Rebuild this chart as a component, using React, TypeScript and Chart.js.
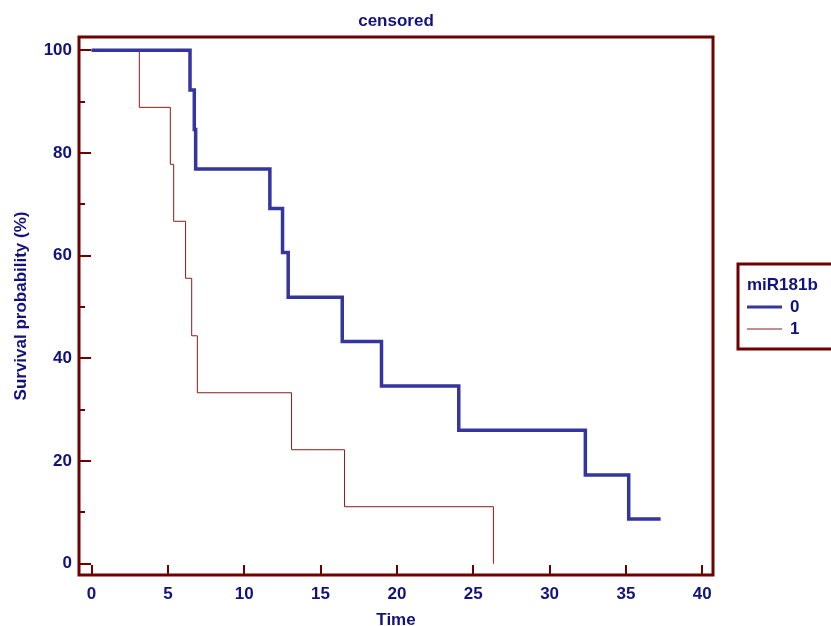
import React, { useEffect, useRef } from "react";
import { Chart, registerables } from "chart.js";

Chart.register(...registerables);

const group0Times = [0, 6.45, 6.73, 6.82, 11.68, 12.51, 12.88, 16.42, 18.99, 24.05, 32.34, 35.18, 37.27];
const group0Survival = [100, 92.3, 84.6, 76.9, 69.2, 60.6, 51.9, 43.3, 34.6, 26.0, 17.3, 8.7, 8.7];
const group1Times = [0, 3.13, 5.16, 5.38, 6.16, 6.56, 6.93, 13.1, 16.57, 26.32];
const group1Survival = [100, 88.9, 77.8, 66.7, 55.6, 44.4, 33.3, 22.2, 11.1, 0];
const xTickValues = [0, 5, 10, 15, 20, 25, 30, 35, 40];
const yTickValues = [0, 10, 20, 30, 40, 50, 60, 70, 80, 90, 100];
const yLabelledTicks = [0, 20, 40, 60, 80, 100];
const legendTitle = "miR181b";
const seriesNames = ["0", "1"];

const NAVY = "#12127f";
const MAROON = "#6e0000";
const BLUE = "#3535a0";
const RED = "#8b1a1a";
const FONT = "'Liberation Sans', Arial, sans-serif";

const framePlugin = {
  id: "frameAndTicks",
  beforeDatasetsDraw(chart: any) {
    const { ctx, chartArea } = chart;
    const xs = chart.scales.x;
    const ys = chart.scales.y;
    ctx.save();
    ctx.strokeStyle = MAROON;
    ctx.lineWidth = 2;
    ctx.beginPath();
    for (const v of yTickValues) {
      const y = Math.round(ys.getPixelForValue(v));
      const len = yLabelledTicks.includes(v) ? 12 : 6;
      ctx.moveTo(chartArea.left, y);
      ctx.lineTo(chartArea.left + len, y);
    }
    for (const v of xTickValues) {
      const x = Math.round(xs.getPixelForValue(v));
      ctx.moveTo(x, chartArea.bottom);
      ctx.lineTo(x, chartArea.bottom - 10);
    }
    ctx.stroke();
    ctx.restore();
  },
  afterDraw(chart: any) {
    const { ctx, chartArea } = chart;
    ctx.save();
    ctx.strokeStyle = MAROON;
    ctx.lineWidth = 3;
    ctx.strokeRect(chartArea.left, chartArea.top, chartArea.right - chartArea.left, chartArea.bottom - chartArea.top);
    // legend
    const lx = 738;
    const ly = 264;
    ctx.strokeRect(lx, ly, 110, 85);
    ctx.fillStyle = NAVY;
    ctx.font = `bold 17px ${FONT}`;
    ctx.textBaseline = "middle";
    ctx.textAlign = "left";
    ctx.fillText(legendTitle, lx + 9, ly + 21);
    const colors = [BLUE, RED];
    const widths = [3, 1];
    seriesNames.forEach((name, i) => {
      const y = ly + 43 + i * 22;
      ctx.strokeStyle = colors[i];
      ctx.lineWidth = widths[i];
      ctx.beginPath();
      ctx.moveTo(lx + 9, y);
      ctx.lineTo(lx + 44, y);
      ctx.stroke();
      ctx.fillStyle = NAVY;
      ctx.fillText(name, lx + 52, y);
    });
    ctx.restore();
  },
};

export default function App() {
  const canvasRef = useRef<HTMLCanvasElement | null>(null);
  useEffect(() => {
    const canvas = canvasRef.current;
    if (!canvas) return;
    const chart = new Chart(canvas, {
      type: "line",
      data: {
        datasets: [
          {
            label: seriesNames[0],
            data: group0Times.map((t, i) => ({ x: t, y: group0Survival[i] })),
            borderColor: BLUE,
            borderWidth: 3.5,
            stepped: true,
            pointRadius: 0,
            fill: false,
          },
          {
            label: seriesNames[1],
            data: group1Times.map((t, i) => ({ x: t, y: group1Survival[i] })),
            borderColor: RED,
            borderWidth: 1,
            stepped: true,
            pointRadius: 0,
            fill: false,
          },
        ],
      },
      options: {
        animation: false,
        responsive: true,
        maintainAspectRatio: false,
        layout: { padding: { left: 0, right: 118, top: 0, bottom: 0 } },
        plugins: {
          legend: { display: false },
          tooltip: { enabled: false },
          title: {
            display: true,
            text: "censored",
            fullSize: false,
            color: NAVY,
            font: { family: FONT, size: 17, weight: "bold" },
            padding: { top: 10.8, bottom: 5.8 },
          },
        },
        scales: {
          x: {
            type: "linear",
            min: -0.82,
            max: 40.7,
            afterBuildTicks: (scale: any) => {
              scale.ticks = xTickValues.map((v) => ({ value: v }));
            },
            afterFit: (scale: any) => {
              scale.height = 51;
            },
            grid: { display: false, drawTicks: false },
            border: { display: false },
            ticks: {
              color: NAVY,
              font: { family: FONT, size: 17, weight: "bold" },
              padding: 9,
              maxRotation: 0,
              autoSkip: false,
            },
            title: {
              display: true,
              text: "Time",
              color: NAVY,
              font: { family: FONT, size: 17, weight: "bold" },
              padding: { top: 0, bottom: -5 },
            },
          },
          y: {
            type: "linear",
            min: -2.2,
            max: 102.6,
            afterBuildTicks: (scale: any) => {
              scale.ticks = yTickValues.map((v) => ({ value: v }));
            },
            afterFit: (scale: any) => {
              scale.width = 79;
            },
            grid: { display: false, drawTicks: false },
            border: { display: false },
            ticks: {
              color: NAVY,
              font: { family: FONT, size: 17, weight: "bold" },
              padding: 7,
              autoSkip: false,
              callback: (v: any) => (yLabelledTicks.includes(Number(v)) ? String(v) : ""),
            },
            title: {
              display: true,
              text: "Survival probability (%)",
              color: NAVY,
              font: { family: FONT, size: 17, weight: "bold" },
              padding: { top: 11, bottom: 0 },
            },
          },
        },
      },
      plugins: [framePlugin],
    });
    return () => chart.destroy();
  }, []);
  return (
    <div style={{ position: "absolute", left: 0, top: 0, width: 831, height: 626, background: "#fff" }}>
      <canvas ref={canvasRef} />
    </div>
  );
}
